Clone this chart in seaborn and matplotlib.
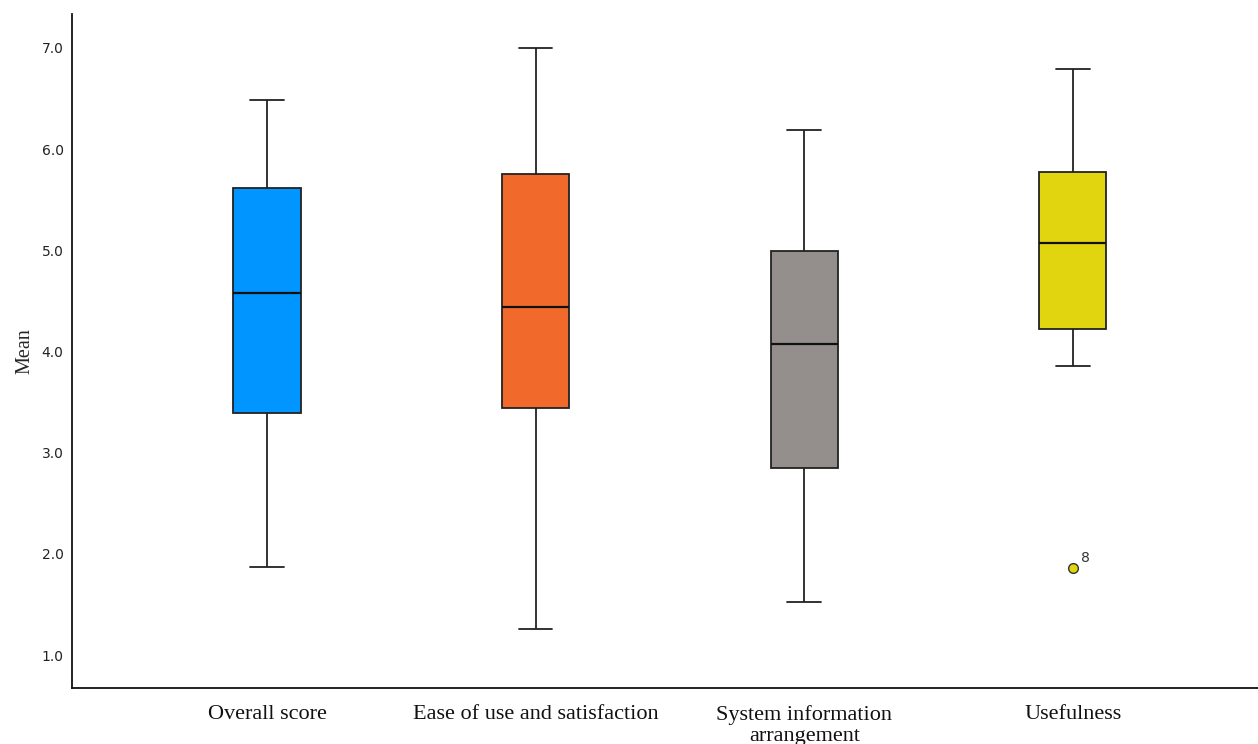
import numpy as np
import pandas as pd
import matplotlib
matplotlib.use("Agg")
import matplotlib.pyplot as plt
import seaborn as sns

categories = ["Overall score", "Ease of use and satisfaction",
              "System information\narrangement", "Usefulness"]
whisker_low = [1.87, 1.26, 1.52, 3.86]
q1 = [3.39, 3.44, 2.85, 4.22]
median = [4.58, 4.44, 4.07, 5.07]
q3 = [5.62, 5.75, 4.99, 5.77]
whisker_high = [6.49, 7.00, 6.19, 6.79]
outliers = [None, None, None, 1.86]
outlier_labels = [None, None, None, "8"]
colors = ["#0095FF", "#F26A2B", "#948F8D", "#E1D510"]
yticks = [1.0, 2.0, 3.0, 4.0, 5.0, 6.0, 7.0]

rows = []
for i, c in enumerate(categories):
    first = outliers[i] if outliers[i] is not None else whisker_low[i]
    vals = [first, whisker_low[i], q1[i], q1[i], median[i], q3[i], q3[i],
            whisker_high[i], whisker_high[i]]
    for v in vals:
        rows.append({"cat": c, "val": v})
df = pd.DataFrame(rows)

sns.set_style("white")
fig = plt.figure(figsize=(12.58, 7.44), dpi=100)
ax = fig.add_axes([72 / 1258, 56 / 744, 1 - 72 / 1258, (688 - 14) / 744])

sns.boxplot(data=df, x="cat", y="val", hue="cat", palette=colors, legend=False,
            order=categories, width=0.25, whis=1.5, linecolor="#222222",
            linewidth=1.3, fliersize=7, saturation=1, ax=ax,
            flierprops=dict(marker="o", markerfacecolor=colors[3],
                            markeredgecolor="#333333", markeredgewidth=1.0),
            medianprops=dict(linewidth=1.6, color="#111111"))

for i, (o, lab) in enumerate(zip(outliers, outlier_labels)):
    if o is not None:
        ax.annotate(lab, (i, o), xytext=(6, 4), textcoords="offset points",
                    fontsize=10, color="#333333", family="DejaVu Sans")

ax.set_xlim(-0.726, 3.689)
ax.set_ylim(0.674, 7.336)
ax.set_yticks(yticks)
ax.set_yticklabels([f"{t:.1f}" for t in yticks], fontsize=10, color="#222222",
                   family="DejaVu Sans")
ax.set_xticks(range(len(categories)))
ax.set_xticklabels(categories, fontsize=16, family="Liberation Serif",
                   color="#111111", linespacing=1.15)
ax.tick_params(axis="both", length=0, pad=6)
ax.tick_params(axis="x", pad=12)
ax.set_xlabel("")
ax.set_ylabel("Mean", fontsize=14.5, family="Liberation Serif", labelpad=5)
for s in ["top", "right"]:
    ax.spines[s].set_visible(False)
for s in ["left", "bottom"]:
    ax.spines[s].set_color("#111111")
    ax.spines[s].set_linewidth(1.3)

fig.savefig("out.png", dpi=100)
